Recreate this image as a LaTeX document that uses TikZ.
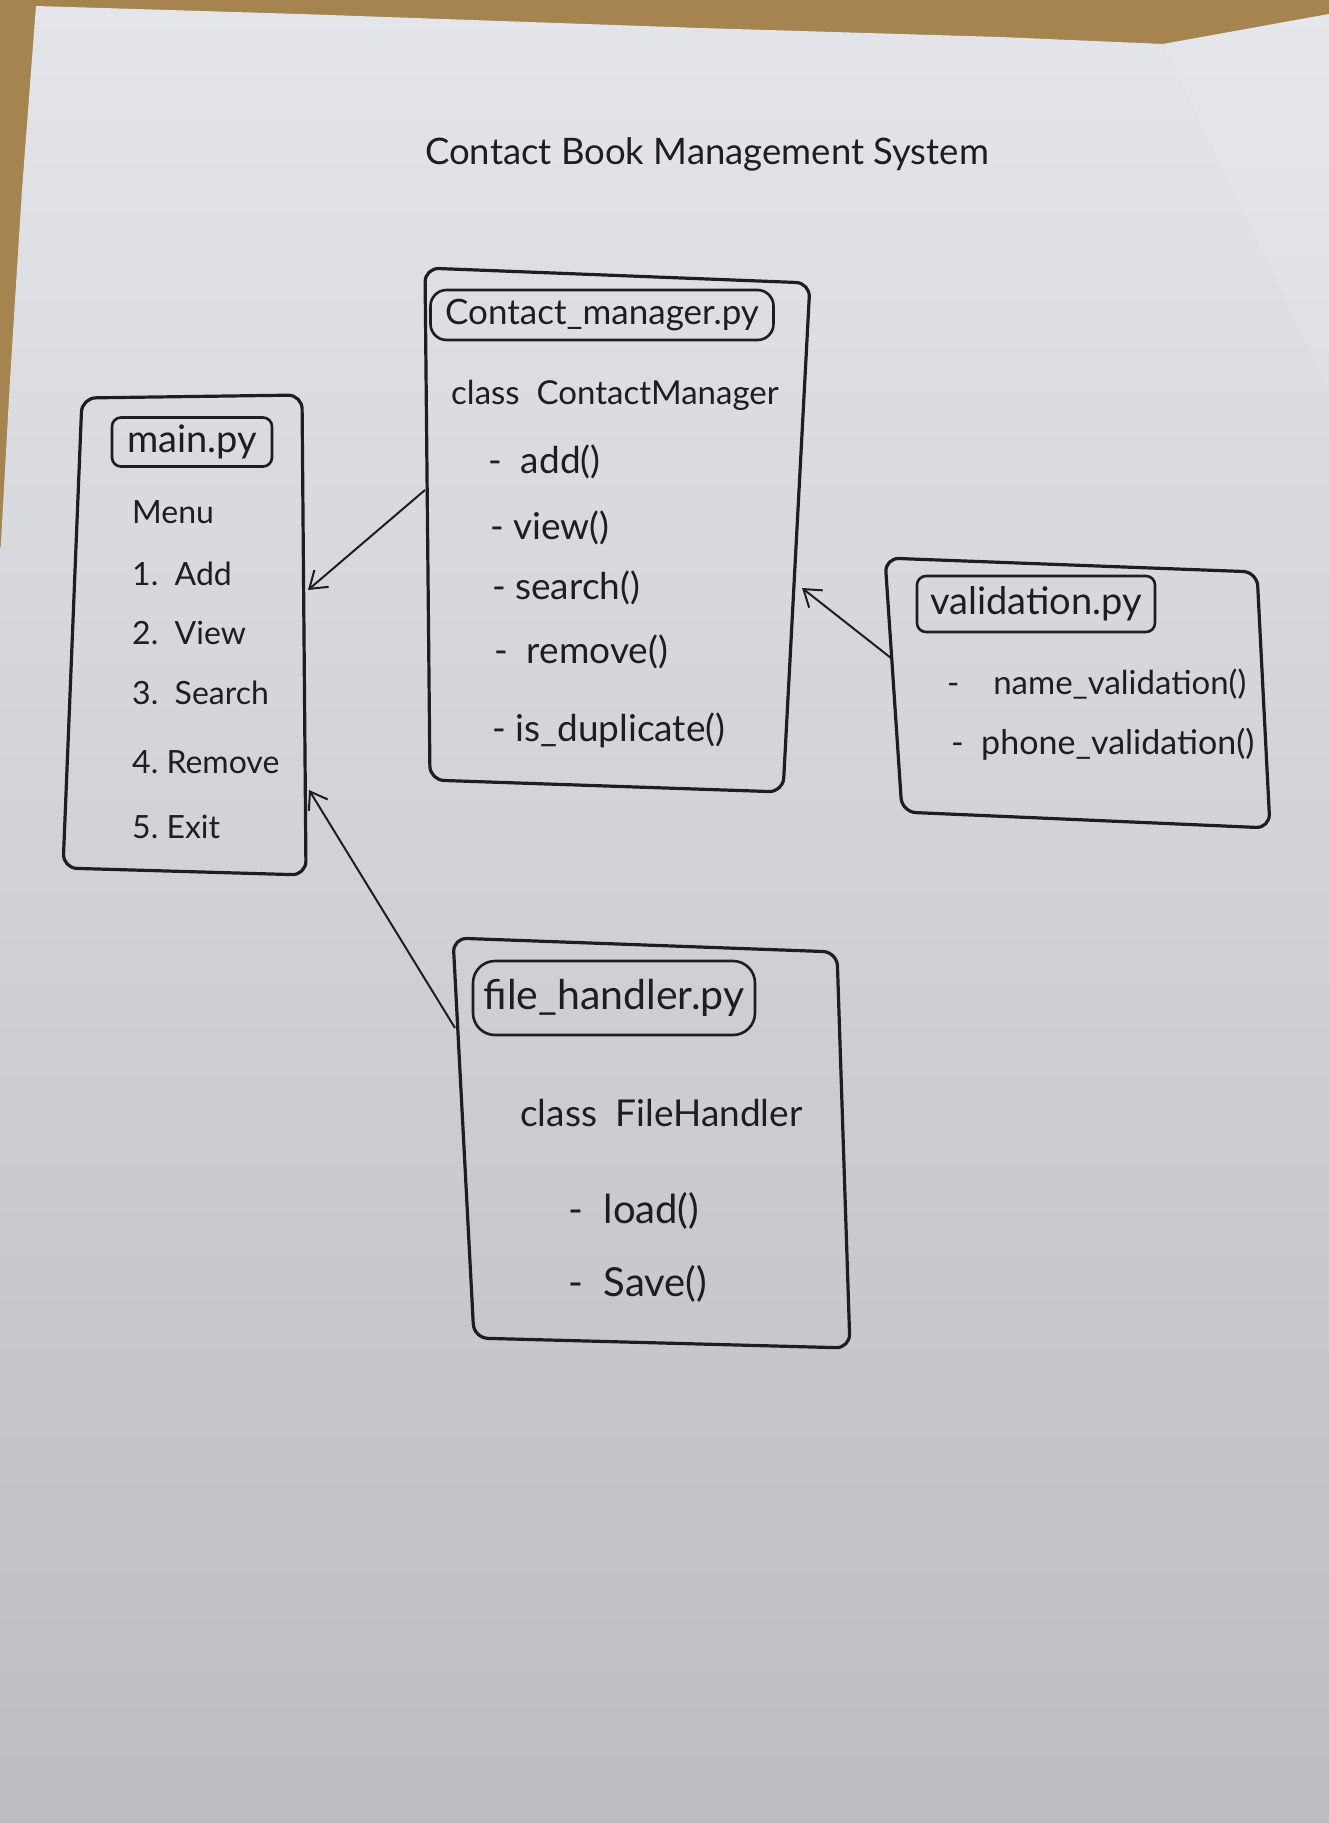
\documentclass[tikz,border=0pt]{standalone}
\usepackage{fontspec}
\setmainfont{Lato}
\usetikzlibrary{arrows.meta}
\definecolor{ink}{HTML}{1E1E22}
\definecolor{deskTan}{HTML}{A68450}
\definecolor{paperTop}{HTML}{E4E5EA}
\definecolor{paperMid}{HTML}{D2D3D7}
\definecolor{paperBot}{HTML}{BCBDC1}

\begin{document}
\begin{tikzpicture}[x=1pt,y=-1pt,
  frame/.style={draw=ink, line width=3.2pt, rounded corners=14pt, line join=round},
  tag/.style={draw=ink, line width=2.6pt, rounded corners=9pt, inner sep=0pt,
    text=ink, font=\fontsize{34}{40}\selectfont},
  link/.style={draw=ink, line width=2pt,
    -{Straight Barb[length=16pt,width=22pt,line width=2pt]}},
  lbl/.style={text=ink, inner sep=0pt, anchor=west,
    font=\fontsize{32}{38}\selectfont, text height=0.72em, text depth=0.2em},
  method/.style={lbl, font=\fontsize{37}{44}\selectfont},
]
\useasboundingbox (0,0) rectangle (1329,1823);

% desk and sheet of paper
\fill[deskTan] (0,0) rectangle (1329,1823);
\shade[top color=paperTop, middle color=paperMid, bottom color=paperBot]
  (36,6) -- (300,14) -- (700,28) -- (1000,37) -- (1163,44) -- (1329,14)
  -- (1329,1823) -- (0,1823) -- (0,560) -- (10,380) -- (22,190) -- cycle;
% folded corner on the right
\fill[white, opacity=0.10] (1163,44) -- (1329,14) -- (1329,390) -- cycle;

% heading
\node[text=ink, inner sep=0pt, font=\fontsize{36.5}{44}\selectfont] (heading)
  at (707,154) {Contact Book Management System};

% ---------------- main.py ----------------
\coordinate (mTL) at (82,398);
\coordinate (mTR) at (302,395);
\coordinate (mBR) at (306,875);
\coordinate (mBL) at (63,868);
\draw[frame] (mTL) -- (mTR) -- (mBR) -- (mBL) -- cycle;
\node[tag, minimum width=160pt, minimum height=49pt, font=\fontsize{38}{44}\selectfont]
  (mainTag) at (192,442) {main.py};
\node[lbl] (menu)  at (132,521) {Menu};
\node[lbl] (mAdd)  at (132,583) {1.\ \ Add};
\node[lbl] (mView) at (132,642) {2.\ \ View};
\node[lbl] (mSrch) at (132,702) {3.\ \ Search};
\node[lbl] (mRem)  at (132,771) {4.\ Remove};
\node[lbl] (mExit) at (132,836) {5.\ Exit};

% ---------------- Contact_manager.py ----------------
\coordinate (cTL) at (425,268);
\coordinate (cTR) at (810,283);
\coordinate (cBR) at (783,792);
\coordinate (cBL) at (430,780);
\draw[frame] (cTL) -- (cTR) -- (cBR) -- (cBL) -- cycle;
\node[tag, rounded corners=16pt, minimum width=343pt, minimum height=50pt,
  font=\fontsize{35}{42}\selectfont] (cmTag) at (602,315) {Contact\_manager.py};
\node[lbl, font=\fontsize{33}{40}\selectfont] (cmClass) at (451,402) {class\ \ ContactManager};
\node[method] (cmAdd)  at (488,471) {-\ \ add()};
\node[method] (cmView) at (490,537) {-\ view()};
\node[method] (cmSrch) at (492,597) {-\ search()};
\node[method] (cmRem)  at (494,661) {-\ \ remove()};
\node[method] (cmDup)  at (492,739) {-\ is\_duplicate()};

% ---------------- validation.py ----------------
\coordinate (vTL) at (885,558);
\coordinate (vTR) at (1257,572);
\coordinate (vBR) at (1270,828);
\coordinate (vBL) at (902,812);
\draw[frame] (vTL) -- (vTR) -- (vBR) -- (vBL) -- cycle;
\node[tag, minimum width=238pt, minimum height=56pt, font=\fontsize{38}{44}\selectfont]
  (valTag) at (1036,604) {validation.py};
\node[lbl, font=\fontsize{33}{40}\selectfont] (vName)  at (947,692) {-\ \ \ \ name\_validation()};
\node[lbl, font=\fontsize{34}{40}\selectfont] (vPhone) at (951,752) {-\ \ phone\_validation()};

% ---------------- file_handler.py ----------------
\coordinate (fTL) at (453,938);
\coordinate (fTR) at (837,952);
\coordinate (fBR) at (850,1348);
\coordinate (fBL) at (474,1338);
\draw[frame] (fTL) -- (fTR) -- (fBR) -- (fBL) -- cycle;
\node[tag, rounded corners=22pt, minimum width=282pt, minimum height=74pt,
  font=\fontsize{41}{48}\selectfont] (fhTag) at (614,998) {file\_handler.py};
\node[lbl, font=\fontsize{37}{44}\selectfont] (fhClass) at (520,1124) {class\ \ FileHandler};
\node[lbl, font=\fontsize{40}{46}\selectfont] (fhLoad)  at (568,1221) {-\ \ load()};
\node[lbl, font=\fontsize{40}{46}\selectfont] (fhSave)  at (568,1294) {-\ \ Save()};

% ---------------- connectors ----------------
\coordinate (cmOut)   at (425,490);
\coordinate (mainIn)  at (308,590);
\coordinate (valOut)  at (891,658);
\coordinate (cmIn)    at (802,588);
\coordinate (fhOut)   at (455,1028);
\coordinate (mainIn2) at (309,790);
\draw[link] (cmOut) -- (mainIn);
\draw[link] (valOut) -- (cmIn);
\draw[link] (fhOut) -- (mainIn2);
\end{tikzpicture}
\end{document}
